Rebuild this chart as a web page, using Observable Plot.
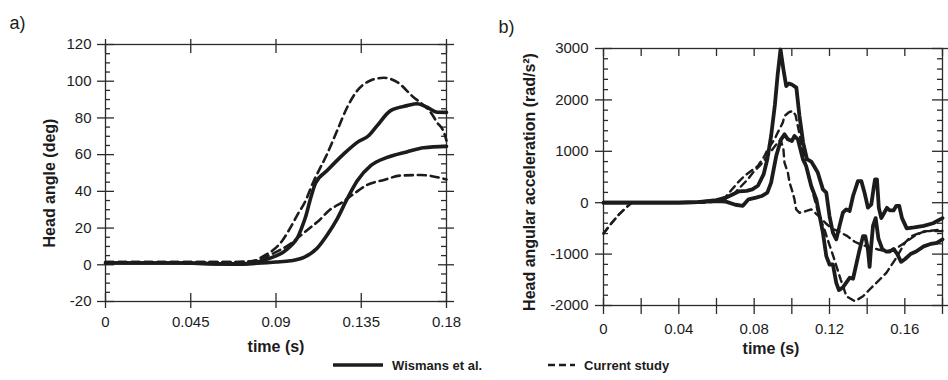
<!DOCTYPE html>
<html>
<head>
<meta charset="utf-8">
<script src="https://cdn.jsdelivr.net/npm/d3@7"></script>
<script src="https://cdn.jsdelivr.net/npm/@observablehq/plot@0.6"></script>
<style>
  body { margin: 0; background: #ffffff; }
  #wrap { position: relative; width: 948px; height: 380px; font-family: "Liberation Sans", Arial, Helvetica, sans-serif; color: #1c1c1c; overflow: hidden; }
  #pa { position: absolute; left: 0; top: 0; }
  #pb { position: absolute; left: 480px; top: 0; }
  #legend { position: absolute; left: 0; top: 356px; width: 948px; height: 20px; font-weight: bold; font-size: 13px; }
  #legend .item { position: absolute; top: 0; display: flex; align-items: center; height: 18px; }
  #legend svg { display: block; margin-right: 9px; }
</style>
</head>
<body>
<div id="wrap">
  <div id="pa"></div>
  <div id="pb"></div>
  <div id="legend"></div>
</div>
<script>
// ---------------- Panel a) Head angle (deg) ----------------
const aXTicks = [0, 0.045, 0.09, 0.135, 0.18];
const aYTicks = [-20, 0, 20, 40, 60, 80, 100, 120];
const aYMinor = [-15, -10, -5, 5, 10, 15, 25, 30, 35, 45, 50, 55, 65, 70, 75, 85, 90, 95, 105, 110, 115];

const aWisUpperT = [0, 0.02, 0.04, 0.06, 0.07, 0.08, 0.085, 0.09, 0.094, 0.098, 0.1012, 0.1035, 0.1056, 0.1082, 0.1109, 0.117, 0.1258, 0.1329, 0.139, 0.1434, 0.1505, 0.1593, 0.1645, 0.1698, 0.1751, 0.18];
const aWisUpperY = [1, 1, 1, 0.5, 0.5, 1.5, 3, 4.8, 7, 10.5, 14.5, 20, 26, 36, 44.5, 51.3, 60.4, 66.7, 70.4, 75.8, 84, 86.7, 87.7, 85.8, 83.1, 83];

const aWisLowerT = [0, 0.02, 0.04, 0.06, 0.07, 0.08, 0.09, 0.0977, 0.1047, 0.1117, 0.117, 0.1223, 0.1276, 0.1329, 0.14, 0.1487, 0.159, 0.168, 0.18];
const aWisLowerY = [1, 1, 1, 0.5, 0.3, 0.8, 1.5, 2.2, 4, 9, 16.2, 25, 36, 45.8, 54, 58.5, 61.5, 63.8, 64.5];

const aCurUpperT = [0, 0.02, 0.04, 0.06, 0.07, 0.078, 0.0836, 0.088, 0.0933, 0.0977, 0.102, 0.1047, 0.11, 0.117, 0.1223, 0.1276, 0.1329, 0.1399, 0.1469, 0.154, 0.1626, 0.167, 0.1716, 0.175, 0.1786, 0.18];
const aCurUpperY = [1.5, 1.5, 1.5, 1.5, 1.5, 2, 4.9, 7.6, 13.1, 20.4, 28.5, 33, 45.8, 60.4, 73.1, 85.8, 94.9, 100.4, 101.9, 99.5, 91.3, 87.7, 83.1, 77.6, 72.2, 67.6];

const aCurLowerT = [0, 0.02, 0.04, 0.06, 0.07, 0.078, 0.085, 0.092, 0.097, 0.103, 0.109, 0.1126, 0.118, 0.1249, 0.131, 0.138, 0.147, 0.1557, 0.1663, 0.18];
const aCurLowerY = [1.5, 1.5, 1.5, 1.5, 1.5, 2, 4.5, 8, 11, 16, 21, 24, 29.6, 34, 38.6, 43.5, 46.2, 48.6, 48.9, 46.5];

// ---------------- Panel b) Head angular acceleration (rad/s²) ----------------
const bXTicks = [0, 0.02, 0.04, 0.06, 0.08, 0.1, 0.12, 0.14, 0.16, 0.18];
const bXLabels = [0, 0.04, 0.08, 0.12, 0.16];
const bYTicks = [-2000, -1000, 0, 1000, 2000, 3000];
const bYMinor = [-1800, -1600, -1400, -1200, -800, -600, -400, -200, 200, 400, 600, 800, 1200, 1400, 1600, 1800, 2200, 2400, 2600, 2800];

const bWisHighT = [0, 0.02, 0.04, 0.05, 0.055, 0.06, 0.065, 0.068, 0.072, 0.076, 0.079, 0.082, 0.085, 0.087, 0.089, 0.091, 0.0925, 0.094, 0.0955, 0.097, 0.0985, 0.1, 0.1024, 0.104, 0.106, 0.108, 0.1103, 0.112, 0.1138, 0.1165, 0.1183, 0.12, 0.1218, 0.1236, 0.1253, 0.1271, 0.1289, 0.1307, 0.1325, 0.1351, 0.1369, 0.1386, 0.1404, 0.1422, 0.1435, 0.1442, 0.1452, 0.1462, 0.1475, 0.149, 0.1505, 0.152, 0.154, 0.1555, 0.157, 0.1585, 0.161, 0.165, 0.17, 0.175, 0.18];
const bWisHighY = [0, 0, 0, 10, 30, 50, 100, 150, 220, 230, 260, 330, 550, 850, 1300, 1900, 2500, 2980, 2600, 2270, 2320, 2300, 2240, 1700, 1170, 850, 800, 700, 584, 259, 195, -260, -584, -714, -455, -195, -130, -160, 130, 421, 421, 195, -97, -33, 300, 454, 454, -100, -300, -200, -100, -150, -150, -60, -60, -300, -500, -480, -450, -400, -300];

const bWisLowT = [0, 0.02, 0.04, 0.05, 0.06, 0.065, 0.07, 0.074, 0.077, 0.081, 0.084, 0.087, 0.089, 0.0917, 0.0943, 0.0961, 0.0979, 0.1, 0.1014, 0.1032, 0.1059, 0.1076, 0.1103, 0.113, 0.1165, 0.1183, 0.12, 0.1218, 0.1236, 0.125, 0.127, 0.129, 0.1307, 0.1325, 0.1342, 0.136, 0.1378, 0.139, 0.1404, 0.1413, 0.142, 0.1431, 0.1445, 0.146, 0.148, 0.15, 0.152, 0.154, 0.156, 0.158, 0.16, 0.163, 0.166, 0.17, 0.174, 0.177, 0.18];
const bWisLowY = [0, 0, 0, 10, 30, 20, -40, -60, 65, 100, 130, 195, 390, 908, 1233, 1330, 1233, 1200, 1298, 1233, 843, 713, 324, 64, -584, -1040, -1202, -1202, -1558, -1700, -1650, -1550, -1461, -1480, -1202, -910, -650, -650, -910, -1250, -900, -450, -300, -700, -900, -950, -950, -900, -1000, -1150, -1100, -1000, -950, -850, -800, -780, -714];

// Current study, curve with the quick drop after ~0.095 s
const bCurAT = [0, 0.003, 0.0074, 0.0119, 0.015, 0.03, 0.05, 0.06, 0.065, 0.07, 0.0766, 0.0793, 0.083, 0.087, 0.091, 0.094, 0.0955, 0.0961, 0.0979, 0.0988, 0.1005, 0.1014, 0.1023, 0.104, 0.107, 0.1103, 0.114, 0.118, 0.121, 0.125, 0.1295, 0.1334, 0.137, 0.142, 0.1458, 0.1502, 0.155, 0.16, 0.165, 0.17, 0.175, 0.18];
const bCurAY = [-600, -455, -260, -97, 0, 0, 0, 20, 80, 200, 455, 584, 720, 900, 1100, 1230, 1050, 780, 585, 390, 195, 65, -130, -195, -170, -130, -250, -400, -500, -560, -650, -760, -820, -870, -910, -943, -900, -780, -650, -560, -540, -520];

// Current study, curve with the 1785 peak and the deep trough
const bCurBT = [0, 0.003, 0.0074, 0.0119, 0.015, 0.03, 0.05, 0.06, 0.065, 0.0713, 0.0748, 0.0819, 0.0855, 0.0872, 0.0908, 0.0925, 0.0952, 0.0961, 0.0985, 0.1005, 0.102, 0.104, 0.107, 0.11, 0.1146, 0.1173, 0.119, 0.122, 0.126, 0.129, 0.1335, 0.1378, 0.1413, 0.1467, 0.1502, 0.1537, 0.1555, 0.16, 0.1635, 0.167, 0.1715, 0.1785, 0.18];
const bCurBY = [-600, -455, -260, -97, 0, 0, 0, 20, 120, 390, 520, 713, 908, 1038, 1233, 1364, 1558, 1687, 1760, 1785, 1700, 1350, 800, 350, -270, -520, -714, -1040, -1500, -1820, -1917, -1820, -1689, -1494, -1364, -1169, -1071, -780, -650, -600, -553, -553, -550];

const legendLabels = ["Wismans et al.", "Current study"];

// ---------------- helpers ----------------
const FONT = '"Liberation Sans", Arial, Helvetica, sans-serif';
const INK = "#1c1c1c";
const AX = "#2b2b2b";
const rows = (ts, ys) => ts.map((t, i) => ({t, v: ys[i]}));
const fmt = d => String(d);
const title = {textAnchor: "middle", lineAnchor: "middle", fontSize: 16, fontWeight: "bold", fill: INK};

// ---------------- Panel a ----------------
{
  const W = 470, H = 360, mL = 105, mR = 24, mT = 44, mB = 59;
  const fw = W - mL - mR, fh = H - mT - mB;
  const tick = {stroke: AX, strokeWidth: 1.3};
  const solid = {x: "t", y: "v", stroke: INK, strokeWidth: 3.6, curve: "monotone-x", strokeLinejoin: "round"};
  const dashed = {x: "t", y: "v", stroke: INK, strokeWidth: 2.6, strokeDasharray: "8,5", curve: "monotone-x"};
  const chart = Plot.plot({
    width: W, height: H, marginLeft: mL, marginRight: mR, marginTop: mT, marginBottom: mB,
    style: {fontFamily: FONT, fontSize: "15px", color: INK, background: "transparent", overflow: "visible"},
    x: {domain: [0, 0.18]},
    y: {domain: [-20, 120]},
    marks: [
      Plot.frame({stroke: AX, strokeWidth: 1.3}),
      Plot.tickY(aYTicks, {y: d => d, insetLeft: -8, insetRight: fw - 9, ...tick}),
      Plot.tickY(aYTicks, {y: d => d, insetLeft: fw - 8, insetRight: -8, ...tick}),
      Plot.tickY(aYMinor, {y: d => d, insetRight: fw - 5, ...tick}),
      Plot.tickY(aYMinor, {y: d => d, insetLeft: fw - 5, ...tick}),
      Plot.tickX(aXTicks, {x: d => d, insetTop: -5, insetBottom: fh - 9, ...tick}),
      Plot.tickX(aXTicks, {x: d => d, insetTop: fh - 8, insetBottom: -7, ...tick}),
      Plot.axisY({ticks: aYTicks, anchor: "left", tickSize: 0, tickPadding: 14, tickFormat: fmt, label: null}),
      Plot.axisX({ticks: aXTicks, anchor: "bottom", tickSize: 0, tickPadding: 15, tickFormat: fmt, label: null}),
      Plot.line(rows(aCurUpperT, aCurUpperY), dashed),
      Plot.line(rows(aCurLowerT, aCurLowerY), dashed),
      Plot.line(rows(aWisUpperT, aWisUpperY), solid),
      Plot.line(rows(aWisLowerT, aWisLowerY), solid),
      Plot.text(["Head angle (deg)"], {text: d => d, frameAnchor: "left", rotate: -90, dx: -56, dy: 10, ...title}),
      Plot.text(["time (s)"], {text: d => d, frameAnchor: "bottom", dy: 45, ...title}),
      Plot.text(["a)"], {text: d => d, frameAnchor: "top-left", dx: -88, dy: -21, textAnchor: "middle", lineAnchor: "middle", fontSize: 18, fill: INK})
    ]
  });
  document.getElementById("pa").append(chart);
}

// ---------------- Panel b ----------------
{
  const W = 468, H = 360, mL = 123, mR = 6, mT = 48, mB = 55;
  const fw = W - mL - mR, fh = H - mT - mB;
  const tick = {stroke: AX, strokeWidth: 1.3};
  const solid = {x: "t", y: "v", stroke: INK, strokeWidth: 3.8, strokeLinejoin: "round"};
  const dashed = {x: "t", y: "v", stroke: INK, strokeWidth: 2.4, strokeDasharray: "7,5"};
  const chart = Plot.plot({
    width: W, height: H, marginLeft: mL, marginRight: mR, marginTop: mT, marginBottom: mB,
    style: {fontFamily: FONT, fontSize: "15px", color: INK, background: "transparent", overflow: "visible"},
    x: {domain: [0, 0.18]},
    y: {domain: [-2000, 3000]},
    marks: [
      Plot.frame({stroke: AX, strokeWidth: 1.3}),
      Plot.tickY(bYTicks, {y: d => d, insetLeft: -8, insetRight: fw - 9, ...tick}),
      Plot.tickY(bYTicks, {y: d => d, insetLeft: fw - 10, insetRight: -6, ...tick}),
      Plot.tickY(bYMinor, {y: d => d, insetRight: fw - 5, ...tick}),
      Plot.tickY(bYMinor, {y: d => d, insetLeft: fw - 5, ...tick}),
      Plot.tickX(bXTicks, {x: d => d, insetTop: 0, insetBottom: fh - 8, ...tick}),
      Plot.tickX(bXTicks, {x: d => d, insetTop: fh - 7, insetBottom: -9, ...tick}),
      Plot.axisY({ticks: bYTicks, anchor: "left", tickSize: 0, tickPadding: 15, tickFormat: fmt, label: null}),
      Plot.axisX({ticks: bXLabels, anchor: "bottom", tickSize: 0, tickPadding: 18, tickFormat: fmt, label: null}),
      Plot.line(rows(bCurBT, bCurBY), dashed),
      Plot.line(rows(bCurAT, bCurAY), dashed),
      Plot.line(rows(bWisHighT, bWisHighY), solid),
      Plot.line(rows(bWisLowT, bWisLowY), solid),
      Plot.text(["Head angular acceleration (rad/s²)"], {text: d => d, frameAnchor: "left", rotate: -90, dx: -74, dy: 5, ...title}),
      Plot.text(["time (s)"], {text: d => d, frameAnchor: "bottom", dx: -2, dy: 43, ...title}),
      Plot.text(["b)"], {text: d => d, frameAnchor: "top-left", dx: -97, dy: -21, textAnchor: "middle", lineAnchor: "middle", fontSize: 18, fill: INK})
    ]
  });
  document.getElementById("pb").append(chart);
}

// ---------------- Legend ----------------
{
  const lg = document.getElementById("legend");
  const items = [
    {label: legendLabels[0], left: 333, w: 50, dash: null, sw: 3.4},
    {label: legendLabels[1], left: 548, w: 27, dash: "7,4", sw: 2.4}
  ];
  for (const it of items) {
    const div = document.createElement("div");
    div.className = "item";
    div.style.left = it.left + "px";
    const svg = d3.create("svg").attr("width", it.w).attr("height", 10);
    svg.append("line").attr("x1", 0).attr("x2", it.w).attr("y1", 5).attr("y2", 5)
      .attr("stroke", INK).attr("stroke-width", it.sw).attr("stroke-dasharray", it.dash);
    div.append(svg.node());
    const span = document.createElement("span");
    span.textContent = it.label;
    div.append(span);
    lg.append(div);
  }
}
</script>
</body>
</html>
